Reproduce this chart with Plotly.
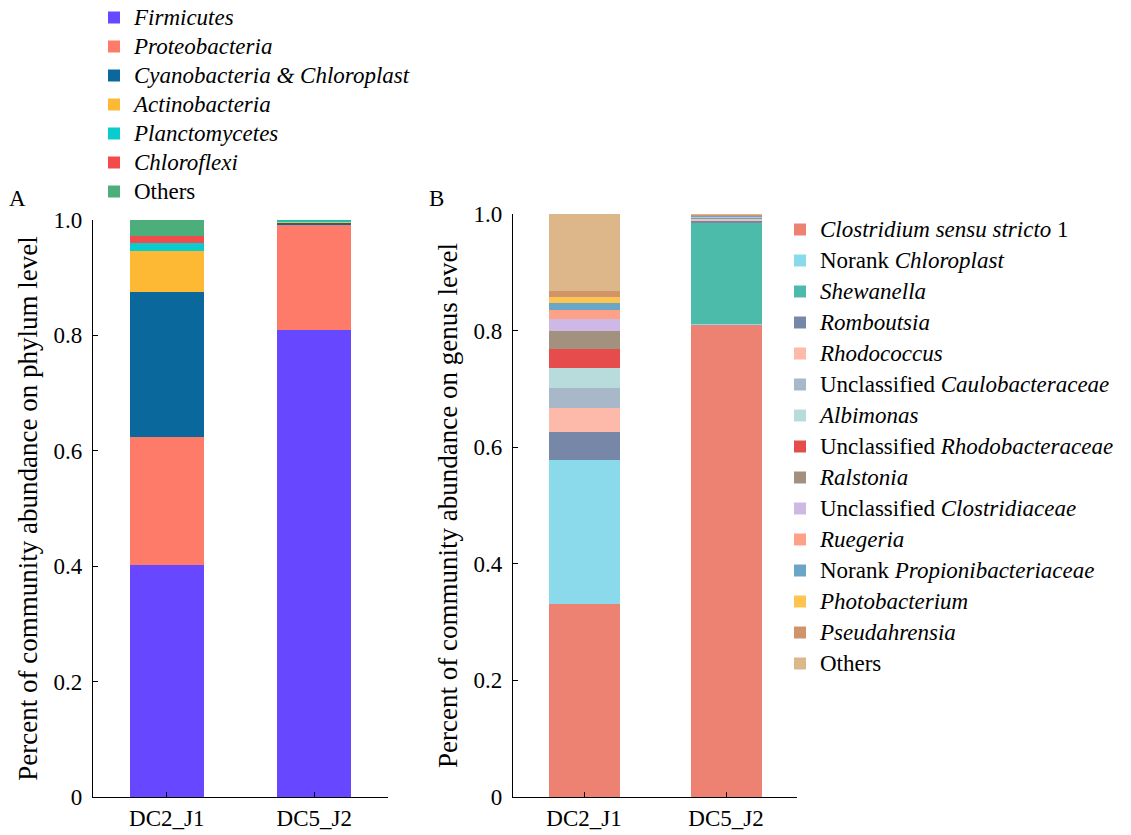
import plotly.graph_objects as go

samples = ["DC2_J1", "DC5_J2"]

phyla = ["<i>Firmicutes</i>", "<i>Proteobacteria</i>", "<i>Cyanobacteria & Chloroplast</i>",
         "<i>Actinobacteria</i>", "<i>Planctomycetes</i>", "<i>Chloroflexi</i>", "Others"]
phylum_dc2 = [0.402, 0.222, 0.251, 0.071, 0.014, 0.012, 0.028]
phylum_dc5 = [0.810, 0.183, 0.002, 0.003, 0.0005, 0.0005, 0.001]
phylum_colors = ["#6747FF", "#FF7B69", "#0B689C", "#FDB933", "#0BCCCC", "#F34B4B", "#4CAE7A"]

genera = ["<i>Clostridium sensu stricto</i> 1", "Norank <i>Chloroplast</i>", "<i>Shewanella</i>",
          "<i>Romboutsia</i>", "<i>Rhodococcus</i>", "Unclassified <i>Caulobacteraceae</i>",
          "<i>Albimonas</i>", "Unclassified <i>Rhodobacteraceae</i>", "<i>Ralstonia</i>",
          "Unclassified <i>Clostridiaceae</i>", "<i>Ruegeria</i>", "Norank <i>Propionibacteriaceae</i>",
          "<i>Photobacterium</i>", "<i>Pseudahrensia</i>", "Others"]
genus_dc2 = [0.331, 0.247, 0.0, 0.048, 0.041, 0.034, 0.035, 0.033, 0.031, 0.020, 0.015, 0.012, 0.011, 0.010, 0.132]
genus_dc5 = [0.811, 0.001, 0.174, 0.002, 0.002, 0.001, 0.001, 0.001, 0.0005, 0.002, 0.001, 0.0005, 0.0005, 0.001, 0.002]
genus_colors = ["#EE8272", "#8BDAEC", "#4DBBAA", "#7787A8", "#FDB9AA", "#A8B8C8", "#B8DCDC",
                "#E64C4C", "#A39180", "#CDB8E6", "#FDA288", "#6AA6C8", "#FEC451", "#D09468", "#DDB789"]

y_ticks = [0, 0.2, 0.4, 0.6, 0.8, 1.0]
y_ticktext = ["0", "0.2", "0.4", "0.6", "0.8", "1.0"]

FONT = "Liberation Serif, Times New Roman, serif"
FS = 23
FS_TITLE = 27
W, H = 1131, 835

xpos = list(range(len(samples)))


def big(label):
    return '<span style="font-size:%dpx">%s</span>' % (FS, label)


fig = go.Figure()
for i, name in enumerate(phyla):
    fig.add_trace(go.Bar(x=xpos, y=[phylum_dc2[i], phylum_dc5[i]], name=big(name),
                         marker=dict(color=phylum_colors[i], line=dict(width=0)),
                         width=0.5, xaxis="x", yaxis="y", legend="legend",
                         legendgroup="a%d" % i))
for i, name in enumerate(genera):
    fig.add_trace(go.Bar(x=xpos, y=[genus_dc2[i], genus_dc5[i]], name=big(name),
                         marker=dict(color=genus_colors[i], line=dict(width=0)),
                         width=0.5, xaxis="x2", yaxis="y2", legend="legend2",
                         legendgroup="b%d" % i))


def px_x(p):
    return p / W


def px_y(p):
    return 1 - p / H


xcommon = dict(range=[-0.5, len(samples) - 0.5], tickmode="array",
               tickvals=xpos + [len(samples) - 0.5], ticktext=samples + [""],
               showline=True, linecolor="black", linewidth=1.3, ticks="inside", ticklen=5,
               tickcolor="black", tickwidth=1.2, showgrid=False, zeroline=False, automargin=False,
               tickfont=dict(family=FONT, size=FS, color="black"), ticklabelstandoff=0)
ycommon = dict(range=[0, 1], tickmode="array", tickvals=y_ticks, ticktext=y_ticktext,
               showline=True, linecolor="black", linewidth=1.3, ticks="inside", ticklen=5,
               tickcolor="black", tickwidth=1.2, showgrid=False, zeroline=False, automargin=False,
               tickfont=dict(family=FONT, size=FS, color="black"), ticklabelstandoff=5)

fig.update_layout(
    template="none",
    width=W, height=H, barmode="stack",
    margin=dict(l=0, r=0, t=0, b=0, autoexpand=False),
    paper_bgcolor="white", plot_bgcolor="white",
    font=dict(family=FONT, color="black"),
    showlegend=True,
    xaxis=dict(domain=[px_x(93), px_x(388)], anchor="y", **xcommon),
    yaxis=dict(domain=[px_y(797), px_y(220)], anchor="x",
               title=dict(text="Percent of community abundance on phylum level",
                          font=dict(family=FONT, size=FS_TITLE, color="black"), standoff=8),
               **ycommon),
    xaxis2=dict(domain=[px_x(513), px_x(797)], anchor="y2", **xcommon),
    yaxis2=dict(domain=[px_y(797), px_y(214)], anchor="x2",
                title=dict(text="Percent of community abundance on genus level",
                           font=dict(family=FONT, size=FS_TITLE, color="black"), standoff=8),
                **ycommon),
    legend=dict(x=px_x(94), y=px_y(-2), xanchor="left", yanchor="top",
                font=dict(family=FONT, size=20, color="black"), bgcolor="rgba(0,0,0,0)",
                traceorder="grouped", tracegroupgap=0, itemclick=False),
    legend2=dict(x=px_x(780), y=px_y(210), xanchor="left", yanchor="top",
                 font=dict(family=FONT, size=20, color="black"), bgcolor="rgba(0,0,0,0)",
                 traceorder="grouped", tracegroupgap=2, itemclick=False),
    annotations=[
        dict(text="A", x=px_x(17), y=px_y(199), xref="paper", yref="paper", showarrow=False,
             xanchor="center", yanchor="middle",
             font=dict(family=FONT, size=FS, color="black")),
        dict(text="B", x=px_x(436), y=px_y(199), xref="paper", yref="paper", showarrow=False,
             xanchor="center", yanchor="middle",
             font=dict(family=FONT, size=FS, color="black")),
    ],
)

fig.write_html("out.html", config={"displayModeBar": False},
               post_script="document.body.style.margin='0';document.body.style.overflow='hidden';")
